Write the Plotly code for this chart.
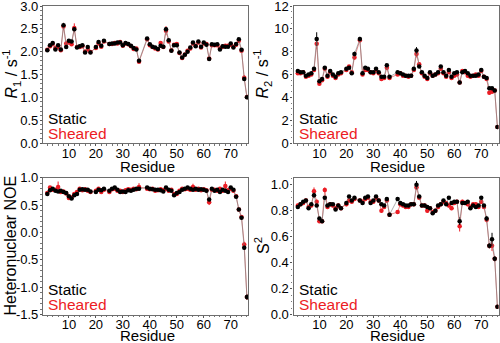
import plotly.graph_objects as go

# ---------------- data ----------------
residues = [2, 3, 4, 5, 6, 7, 8, 9, 10, 11, 12, 13, 14, 15, 16, 17, 18,
            20, 21, 22, 23,
            25, 26, 27, 28, 29, 30, 31, 32, 33, 34, 35, 36,
            39, 40, 41, 42, 43, 44, 45, 46, 47, 48, 49, 50, 51, 52, 53, 54, 55, 56, 57, 58,
            59, 60, 61, 62, 63, 64, 65, 66, 67, 68, 69, 70, 71, 72, 73, 74, 75, 76]

r1_static = [2.03, 2.14, 2.19, 2.05, 2.14, 2.05, 2.58, 2.10, 2.24, 2.22, 2.49, 2.09, 2.12, 2.14, 1.98, 2.10, 1.98,
             2.10, 2.21, 2.13, 2.24,
             2.17, 2.18, 2.18, 2.20, 2.20, 2.14, 2.19, 2.17, 2.13, 2.08, 2.05, 1.80,
             2.29, 2.16, 2.11, 2.09, 2.06, 2.13, 2.11, 2.49, 2.25, 2.02,
             2.14, 2.14, 1.98, 1.87, 1.93, 2.00, 2.09, 2.20, 2.12, 2.22,
             2.11, 2.20, 2.15, 1.84, 2.16, 2.15, 2.16, 2.05, 2.12, 2.11,
             2.11, 2.18, 2.09, 2.17, 2.27, 2.04, 1.40, 1.00]
r1_sheared = [2.04, 2.12, 2.17, 2.08, 2.10, 2.03, 2.55, 2.18, 2.20, 2.16, 2.52, 2.10, 2.10, 2.12, 2.00, 2.05, 1.99,
              2.08, 2.18, 2.11, 2.22,
              2.17, 2.17, 2.19, 2.18, 2.21, 2.13, 2.18, 2.16, 2.12, 2.06, 2.07, 1.78,
              2.27, 2.14, 2.10, 2.07, 2.05, 2.19, 2.10, 2.46, 2.22, 2.03,
              2.15, 2.17, 1.97, 1.86, 1.94, 2.02, 2.07, 2.18, 2.13, 2.20,
              2.09, 2.18, 2.17, 1.85, 2.14, 2.14, 2.14, 2.07, 2.11, 2.13,
              2.13, 2.15, 2.11, 2.15, 2.24, 2.02, 1.43, 1.01]
r1_err_static = [0.02, 0.02, 0.02, 0.02, 0.02, 0.02, 0.05, 0.02, 0.02, 0.02, 0.04, 0.02, 0.02, 0.02, 0.02, 0.02, 0.02,
                 0.02, 0.02, 0.02, 0.02,
                 0.02, 0.02, 0.02, 0.02, 0.02, 0.02, 0.02, 0.02, 0.02, 0.02, 0.02, 0.02,
                 0.02, 0.02, 0.02, 0.02, 0.02, 0.02, 0.02, 0.05, 0.02, 0.02,
                 0.02, 0.02, 0.02, 0.02, 0.02, 0.02, 0.02, 0.02, 0.02, 0.02,
                 0.02, 0.02, 0.02, 0.02, 0.02, 0.02, 0.02, 0.02, 0.02, 0.02,
                 0.02, 0.02, 0.02, 0.02, 0.03, 0.03, 0.04, 0.03]
r1_err_sheared = [0.03, 0.03, 0.03, 0.03, 0.03, 0.03, 0.08, 0.03, 0.03, 0.03, 0.10, 0.03, 0.03, 0.03, 0.03, 0.03, 0.03,
                  0.03, 0.03, 0.03, 0.03,
                  0.03, 0.03, 0.03, 0.03, 0.03, 0.03, 0.03, 0.03, 0.03, 0.03, 0.03, 0.03,
                  0.03, 0.03, 0.03, 0.03, 0.03, 0.04, 0.03, 0.10, 0.03, 0.03,
                  0.03, 0.04, 0.03, 0.03, 0.03, 0.03, 0.03, 0.03, 0.03, 0.03,
                  0.03, 0.03, 0.03, 0.03, 0.03, 0.03, 0.03, 0.03, 0.03, 0.03,
                  0.03, 0.03, 0.03, 0.03, 0.03, 0.03, 0.06, 0.03]

r2_static = [6.3, 6.2, 6.2, 5.9, 6.0, 6.1, 6.5, 9.1, 5.4, 5.6, 6.6, 5.9, 6.3, 6.0, 5.8, 6.1, 6.2,
             6.5, 6.6, 6.1, 7.8,
             9.1, 6.1, 6.6, 6.5, 6.2, 6.2, 6.5, 6.2, 5.8, 5.8, 6.8, 5.8,
             6.2, 6.1, 6.0, 5.9, 5.9, 5.9, 6.5, 8.1, 6.7, 6.2,
             5.9, 5.7, 6.2, 5.9, 6.0, 6.2, 6.7, 6.2, 5.9, 6.4,
             5.8, 6.1, 6.2, 5.3, 6.2, 6.3, 6.1, 5.9, 5.9, 5.9,
             6.0, 6.4, 5.8, 5.7, 4.8, 4.8, 4.6, 1.4]
r2_sheared = [6.1, 6.1, 6.2, 5.8, 5.9, 6.0, 6.4, 8.7, 5.2, 5.5, 6.5, 5.8, 6.2, 5.9, 5.7, 6.0, 6.1,
              6.4, 6.7, 6.2, 7.5,
              9.0, 6.0, 6.4, 6.4, 6.2, 6.1, 6.4, 6.1, 5.6, 5.7, 6.6, 5.7,
              6.0, 6.1, 5.9, 5.9, 5.8, 5.9, 6.4, 7.8, 6.9, 6.1,
              5.8, 5.6, 6.1, 5.9, 6.0, 6.1, 6.5, 6.1, 5.8, 6.2,
              5.7, 5.9, 6.0, 5.3, 6.3, 6.2, 5.9, 5.8, 5.9, 6.0,
              5.9, 6.3, 5.8, 5.6, 4.4, 4.5, 4.6, 1.4]
r2_err_static = [0.12, 0.12, 0.12, 0.12, 0.12, 0.12, 0.15, 0.60, 0.12, 0.12, 0.12, 0.12, 0.12, 0.12, 0.12, 0.12, 0.12,
                 0.12, 0.12, 0.12, 0.20,
                 0.20, 0.12, 0.12, 0.12, 0.12, 0.12, 0.12, 0.12, 0.12, 0.12, 0.12, 0.12,
                 0.12, 0.12, 0.12, 0.12, 0.12, 0.12, 0.12, 0.30, 0.12, 0.12,
                 0.12, 0.12, 0.12, 0.12, 0.12, 0.12, 0.12, 0.12, 0.12, 0.12,
                 0.12, 0.12, 0.12, 0.12, 0.12, 0.12, 0.12, 0.12, 0.12, 0.12,
                 0.12, 0.12, 0.12, 0.12, 0.12, 0.12, 0.12, 0.12]
r2_err_sheared = [0.12, 0.12, 0.12, 0.12, 0.12, 0.12, 0.15, 0.50, 0.12, 0.12, 0.12, 0.12, 0.12, 0.12, 0.12, 0.12, 0.12,
                  0.12, 0.12, 0.12, 0.20,
                  0.20, 0.12, 0.12, 0.12, 0.12, 0.12, 0.12, 0.12, 0.12, 0.12, 0.12, 0.12,
                  0.12, 0.12, 0.12, 0.12, 0.12, 0.12, 0.12, 0.30, 0.12, 0.12,
                  0.12, 0.12, 0.12, 0.12, 0.12, 0.12, 0.12, 0.12, 0.12, 0.12,
                  0.12, 0.12, 0.12, 0.12, 0.12, 0.12, 0.12, 0.12, 0.12, 0.12,
                  0.12, 0.12, 0.12, 0.12, 0.15, 0.15, 0.15, 0.12]

noe_static = [0.70, 0.77, 0.80, 0.76, 0.75, 0.76, 0.74, 0.72, 0.66, 0.62, 0.68, 0.70, 0.78, 0.79, 0.78, 0.78, 0.75,
              0.74, 0.78, 0.77, 0.80,
              0.76, 0.80, 0.82, 0.78, 0.74, 0.75, 0.74, 0.77, 0.76, 0.78, 0.80, 0.80,
              0.82, 0.80, 0.79, 0.78, 0.78, 0.77, 0.75, 0.82, 0.78, 0.76,
              0.68, 0.72, 0.74, 0.78, 0.80, 0.82, 0.80, 0.78, 0.80, 0.78,
              0.79, 0.78, 0.76, 0.60, 0.80, 0.76, 0.78, 0.74, 0.78, 0.76,
              0.74, 0.82, 0.78, 0.65, 0.42, 0.27, -0.28, -1.18]
noe_sheared = [0.72, 0.82, 0.78, 0.78, 0.83, 0.74, 0.75, 0.71, 0.63, 0.64, 0.70, 0.74, 0.80, 0.77, 0.79, 0.76, 0.74,
               0.76, 0.80, 0.74, 0.78,
               0.74, 0.79, 0.80, 0.76, 0.76, 0.74, 0.77, 0.79, 0.78, 0.80, 0.79, 0.83,
               0.80, 0.79, 0.80, 0.76, 0.77, 0.79, 0.77, 0.80, 0.76, 0.78,
               0.70, 0.70, 0.76, 0.80, 0.79, 0.80, 0.78, 0.83, 0.78, 0.80,
               0.77, 0.79, 0.77, 0.55, 0.78, 0.78, 0.76, 0.80, 0.76, 0.85,
               0.77, 0.80, 0.76, 0.66, 0.42, 0.28, -0.22, -1.18]
noe_err_static = [0.02, 0.02, 0.02, 0.02, 0.02, 0.02, 0.02, 0.02, 0.02, 0.02, 0.02, 0.02, 0.02, 0.02, 0.02, 0.02, 0.02,
                  0.02, 0.02, 0.02, 0.02,
                  0.02, 0.02, 0.02, 0.02, 0.02, 0.02, 0.02, 0.02, 0.02, 0.02, 0.02, 0.02,
                  0.02, 0.02, 0.02, 0.02, 0.02, 0.02, 0.02, 0.02, 0.02, 0.02,
                  0.02, 0.02, 0.02, 0.02, 0.02, 0.02, 0.02, 0.02, 0.02, 0.02,
                  0.02, 0.02, 0.02, 0.03, 0.02, 0.02, 0.02, 0.02, 0.02, 0.02,
                  0.02, 0.02, 0.02, 0.02, 0.02, 0.03, 0.04, 0.05]
noe_err_sheared = [0.03, 0.03, 0.03, 0.03, 0.10, 0.03, 0.03, 0.03, 0.03, 0.03, 0.03, 0.03, 0.03, 0.03, 0.03, 0.03, 0.03,
                   0.03, 0.03, 0.03, 0.03,
                   0.03, 0.03, 0.03, 0.03, 0.03, 0.03, 0.03, 0.03, 0.03, 0.03, 0.03, 0.07,
                   0.03, 0.03, 0.03, 0.03, 0.03, 0.03, 0.03, 0.03, 0.03, 0.03,
                   0.03, 0.03, 0.03, 0.03, 0.03, 0.03, 0.03, 0.06, 0.03, 0.03,
                   0.03, 0.03, 0.03, 0.05, 0.03, 0.03, 0.03, 0.03, 0.03, 0.08,
                   0.03, 0.03, 0.03, 0.03, 0.03, 0.03, 0.05, 0.05]

s2_static = [0.83, 0.85, 0.87, 0.88, 0.82, 0.85, 0.92, 0.84, 0.74, 0.72, 0.90, 0.84, 0.85, 0.85, 0.81, 0.84, 0.82,
             0.86, 0.91, 0.88, 0.90,
             0.88, 0.86, 0.90, 0.91, 0.86, 0.88, 0.91, 0.88, 0.85, 0.84, 0.89, 0.77,
             0.89, 0.86, 0.85, 0.84, 0.84, 0.85, 0.85, 1.00, 0.91, 0.84,
             0.84, 0.83, 0.82, 0.78, 0.80, 0.84, 0.85, 0.88, 0.85, 0.90,
             0.86, 0.87, 0.87, 0.72, 0.86, 0.86, 0.87, 0.82, 0.84, 0.83,
             0.84, 0.90, 0.84, 0.74, 0.53, 0.58, 0.43, 0.06]
s2_sheared = [0.84, 0.85, 0.86, 0.88, 0.83, 0.84, 0.95, 0.87, 0.72, 0.72, 0.96, 0.83, 0.85, 0.84, 0.82, 0.84, 0.82,
              0.85, 0.88, 0.87, 0.89,
              0.88, 0.87, 0.89, 0.90, 0.87, 0.87, 0.90, 0.88, 0.80, 0.83, 0.88, 0.77,
              0.79, 0.85, 0.84, 0.83, 0.83, 0.85, 0.85, 0.98, 0.90, 0.84,
              0.84, 0.80, 0.82, 0.79, 0.80, 0.83, 0.85, 0.87, 0.86, 0.84,
              0.82, 0.86, 0.87, 0.68, 0.87, 0.86, 0.85, 0.83, 0.85, 0.85,
              0.83, 0.87, 0.83, 0.73, 0.53, 0.53, 0.43, 0.06]
s2_err_static = [0.01, 0.01, 0.01, 0.01, 0.01, 0.01, 0.02, 0.01, 0.01, 0.01, 0.01, 0.01, 0.01, 0.01, 0.01, 0.01, 0.01,
                 0.01, 0.01, 0.01, 0.01,
                 0.01, 0.01, 0.01, 0.01, 0.01, 0.01, 0.01, 0.01, 0.01, 0.01, 0.01, 0.01,
                 0.01, 0.01, 0.01, 0.01, 0.01, 0.01, 0.01, 0.03, 0.01, 0.01,
                 0.01, 0.01, 0.01, 0.01, 0.01, 0.01, 0.01, 0.01, 0.01, 0.01,
                 0.01, 0.01, 0.01, 0.03, 0.01, 0.01, 0.01, 0.01, 0.01, 0.01,
                 0.01, 0.01, 0.01, 0.02, 0.02, 0.05, 0.02, 0.01]
s2_err_sheared = [0.015, 0.015, 0.015, 0.015, 0.015, 0.015, 0.03, 0.015, 0.015, 0.015, 0.02, 0.015, 0.015, 0.015, 0.015, 0.015, 0.015,
                  0.015, 0.015, 0.015, 0.015,
                  0.015, 0.015, 0.015, 0.015, 0.015, 0.015, 0.015, 0.015, 0.015, 0.015, 0.015, 0.015,
                  0.015, 0.015, 0.015, 0.015, 0.015, 0.015, 0.015, 0.02, 0.015, 0.015,
                  0.015, 0.015, 0.015, 0.015, 0.015, 0.015, 0.015, 0.015, 0.015, 0.015,
                  0.015, 0.015, 0.015, 0.04, 0.015, 0.015, 0.015, 0.015, 0.015, 0.015,
                  0.015, 0.015, 0.015, 0.02, 0.02, 0.04, 0.02, 0.015]

x_ticks = [10, 20, 30, 40, 50, 60, 70]
r1_ticks = [0.0, 0.5, 1.0, 1.5, 2.0, 2.5, 3.0]
r2_ticks = [0, 2, 4, 6, 8, 10, 12]
noe_ticks = [-1.5, -1.0, -0.5, 0.0, 0.5, 1.0]
noe_ticktext = ["-1.5", "-1.0", "-0.5", "0.0", "0.5", "1.0"]
s2_ticks = [0.0, 0.2, 0.4, 0.6, 0.8, 1.0]

# ---------------- style ----------------
FONT = "Liberation Sans, Arial, Helvetica, sans-serif"
RED = "rgb(236,28,36)"
BLACK = "black"
W, H = 500, 343


def px(x):
    return x / W


def py(y):
    return 1 - y / H


panels = [
    ("", r1_static, r1_sheared, r1_err_static, r1_err_sheared, (43, 248), (6, 143)),
    ("2", r2_static, r2_sheared, r2_err_static, r2_err_sheared, (293.5, 498.5), (6, 143)),
    ("3", noe_static, noe_sheared, noe_err_static, noe_err_sheared, (43, 248), (177.7, 314.5)),
    ("4", s2_static, s2_sheared, s2_err_static, s2_err_sheared, (293.5, 498.5), (177.7, 314.5)),
]

fig = go.Figure()
layout = dict(
    width=W, height=H,
    margin=dict(l=0, r=0, t=0, b=0),
    paper_bgcolor="white", plot_bgcolor="white",
    showlegend=False,
    font=dict(family=FONT, size=13, color="black"),
)

axis_line = dict(showline=True, linecolor="#6e6e6e", linewidth=1.2, mirror=True,
                 showgrid=False, zeroline=False, ticks="outside", ticklen=2,
                 tickcolor="#555", tickwidth=1, automargin=False,
                 ticklabeloverflow="allow",
                 tickfont=dict(family=FONT, size=13, color="black"))

for suf, st, sh, est, esh, (x0, x1), (y0, y1) in panels:
    xa = "x" + suf
    ya = "y" + suf
    fig.add_trace(go.Scatter(
        x=residues, y=sh, mode="lines+markers", xaxis=xa, yaxis=ya,
        line=dict(color="rgba(225,120,120,0.85)", width=1),
        marker=dict(color=RED, size=4.5, line=dict(width=0)),
        error_y=dict(type="data", array=esh, color=RED, thickness=1, width=0),
    ))
    fig.add_trace(go.Scatter(
        x=residues, y=st, mode="lines+markers", xaxis=xa, yaxis=ya,
        line=dict(color="rgba(120,120,120,0.6)", width=1),
        marker=dict(color=BLACK, size=4.5, line=dict(width=0)),
        error_y=dict(type="data", array=est, color=BLACK, thickness=1, width=0),
    ))
    xkey = "xaxis" + suf
    ykey = "yaxis" + suf
    layout[xkey] = dict(axis_line, domain=[px(x0), px(x1)], anchor=ya,
                        range=[0.4, 76.4], tickvals=x_ticks, ticklabelstandoff=-4,
                        minor=dict(dtick=2, tick0=0, ticks="outside", ticklen=1.5, tickcolor="#777"))
    layout[ykey] = dict(axis_line, domain=[py(y1), py(y0)], anchor=xa, ticklabelstandoff=-1)

layout["yaxis"].update(range=[0, 3.0], tickvals=r1_ticks, tickformat=".1f",
                       minor=dict(dtick=0.1, ticks="outside", ticklen=1.5, tickcolor="#777"))
layout["yaxis2"].update(range=[0, 12], tickvals=r2_ticks,
                        minor=dict(dtick=0.5, ticks="outside", ticklen=1.5, tickcolor="#777"))
layout["yaxis3"].update(range=[-1.5, 1.0], tickvals=noe_ticks, ticktext=noe_ticktext,
                        minor=dict(dtick=0.1, ticks="outside", ticklen=1.5, tickcolor="#777"))
layout["yaxis4"].update(range=[0, 1.055], tickvals=s2_ticks, tickformat=".1f",
                        minor=dict(dtick=0.05, ticks="outside", ticklen=1.5, tickcolor="#777"))

ann = []
for cx, cy in [(147, 166), (397.5, 166), (147, 335.5), (397.5, 335.5)]:
    ann.append(dict(text="Residue", x=px(cx), y=py(cy), xref="paper", yref="paper",
                    showarrow=False, xanchor="center", yanchor="middle",
                    font=dict(family=FONT, size=15, color="black")))
ytitles = [
    ("<i>R</i><sub>1</sub> / s<sup>-1</sup>", 11, 74.5),
    ("<i>R</i><sub>2</sub> / s<sup>-1</sup>", 262, 74.5),
    ("Heteronuclear NOE", 9.5, 246),
    ("S<sup>2</sup>", 262, 246),
]
for t, cx, cy in ytitles:
    ann.append(dict(text=t, x=px(cx), y=py(cy), xref="paper", yref="paper",
                    showarrow=False, xanchor="center", yanchor="middle", textangle=-90,
                    font=dict(family=FONT, size=16, color="black")))
for lx, ly in [(46, 118), (297, 118), (46, 289.5), (297, 289.5)]:
    ann.append(dict(text="Static", x=px(lx), y=py(ly), xref="paper", yref="paper",
                    showarrow=False, xanchor="left", yanchor="middle",
                    font=dict(family=FONT, size=15.5, color="black")))
    ann.append(dict(text="Sheared", x=px(lx), y=py(ly + 15), xref="paper", yref="paper",
                    showarrow=False, xanchor="left", yanchor="middle",
                    font=dict(family=FONT, size=15.5, color=RED)))
layout["annotations"] = ann

fig.update_layout(**layout)
fig.write_html("out.html")
